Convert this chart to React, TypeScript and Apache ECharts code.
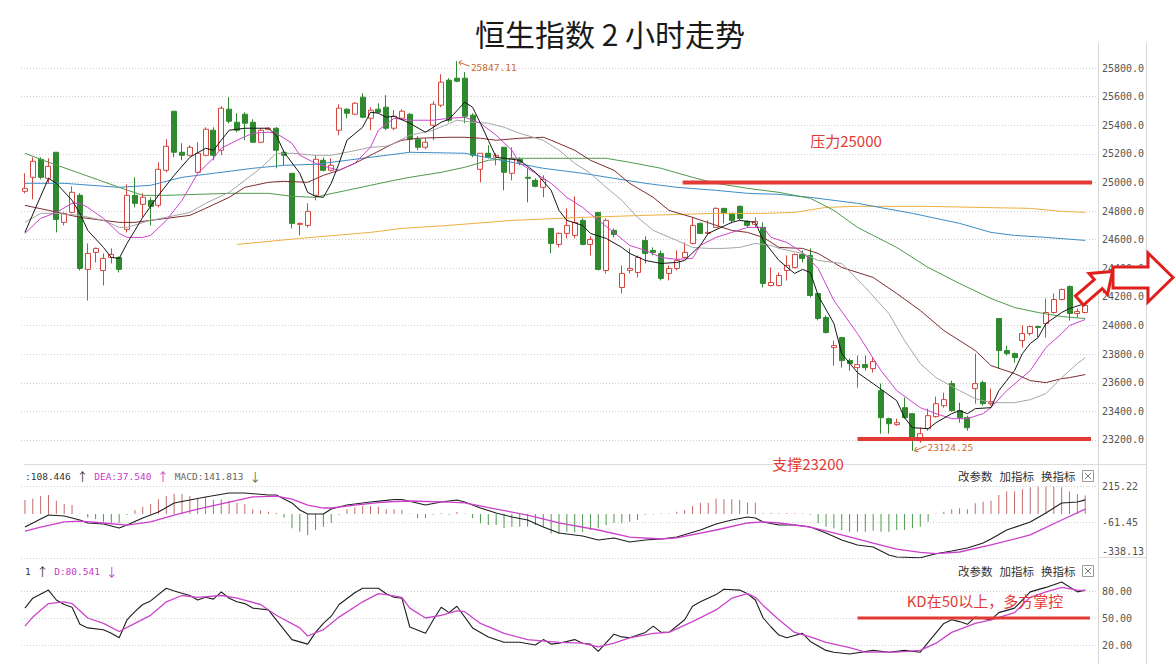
import React, { useEffect, useRef } from "react";
import * as echarts from "echarts";

const candleCount = 136;
const categories: string[] = Array.from({ length: candleCount + 1 }, (_, i) => `#${i + 1}`);

// [open, close, low, high]
const ohlc: number[][] = [
  [24938, 24959, 24924, 25064], [25036, 25148, 24882, 25176], [25162, 25036, 25022, 25176], [25029, 25113, 24994, 25169],
  [25211, 24742, 24651, 25211], [24721, 24784, 24700, 24791], [24791, 24931, 24784, 24973], [24910, 24399, 24385, 24924],
  [24392, 24504, 24175, 24574], [24511, 24539, 24441, 24545], [24385, 24469, 24280, 24504], [24476, 24497, 24434, 24539],
  [24476, 24392, 24371, 24483], [24672, 24910, 24651, 24987], [24910, 24854, 24826, 25036], [24847, 24896, 24756, 24924],
  [24875, 24833, 24700, 24896], [24840, 25092, 24826, 25141], [25085, 25253, 25071, 25302], [25498, 25211, 25176, 25498],
  [25211, 25190, 25155, 25274], [25190, 25246, 25183, 25260], [25071, 25204, 25064, 25281], [25190, 25372, 25183, 25386],
  [25365, 25190, 25155, 25386], [25225, 25519, 25190, 25533], [25512, 25428, 25414, 25596], [25421, 25365, 25351, 25484],
  [25477, 25414, 25295, 25491], [25421, 25281, 25281, 25442], [25281, 25365, 25274, 25379], [25372, 25379, 25365, 25386],
  [25379, 25225, 25099, 25386], [25211, 25190, 25120, 25225], [25064, 24714, 24679, 25064], [24707, 24714, 24630, 24721],
  [24700, 24798, 24686, 24854], [24910, 25162, 24875, 25190], [25155, 25085, 25078, 25176], [25085, 25120, 25078, 25169],
  [25365, 25519, 25330, 25547], [25512, 25484, 25449, 25519], [25477, 25554, 25470, 25561], [25596, 25456, 25449, 25624],
  [25449, 25505, 25365, 25526], [25512, 25491, 25484, 25554], [25526, 25379, 25365, 25610], [25379, 25463, 25365, 25505],
  [25449, 25498, 25435, 25512], [25477, 25302, 25211, 25484], [25302, 25246, 25225, 25323], [25246, 25281, 25232, 25309],
  [25400, 25547, 25295, 25568], [25540, 25701, 25526, 25757], [25715, 25435, 25421, 25729], [25729, 25708, 25701, 25847.11],
  [25729, 25463, 25414, 25771], [25470, 25190, 25176, 25484], [25092, 25204, 25001, 25204], [25204, 25176, 25169, 25260],
  [25176, 25190, 25120, 25204], [25246, 25071, 24945, 25246], [25064, 25169, 25015, 25246], [25162, 25141, 25120, 25176],
  [25036, 25029, 24861, 25099], [25015, 24973, 24966, 25029], [24966, 25022, 24896, 25050], [24679, 24574, 24504, 24679],
  [24567, 24644, 24546, 24651], [24644, 24700, 24609, 24819], [24630, 24721, 24609, 24903], [24735, 24567, 24560, 24749],
  [24567, 24602, 24490, 24623], [24791, 24392, 24385, 24791], [24385, 24735, 24364, 24749], [24665, 24637, 24616, 24679],
  [24266, 24364, 24224, 24420], [24385, 24399, 24364, 24539], [24371, 24476, 24336, 24490], [24595, 24504, 24434, 24623],
  [24525, 24511, 24490, 24546], [24504, 24329, 24315, 24525], [24364, 24399, 24315, 24420], [24399, 24455, 24385, 24525],
  [24476, 24511, 24469, 24581], [24574, 24700, 24567, 24756], [24714, 24644, 24644, 24721], [24644, 24651, 24637, 24735],
  [24686, 24819, 24686, 24826], [24819, 24784, 24714, 24819], [24784, 24735, 24714, 24784], [24833, 24749, 24735, 24840],
  [24728, 24700, 24686, 24735], [24707, 24728, 24686, 24756], [24686, 24294, 24266, 24721], [24280, 24301, 24273, 24406],
  [24280, 24350, 24273, 24371], [24385, 24420, 24315, 24490], [24406, 24497, 24399, 24504], [24497, 24469, 24441, 24525],
  [24490, 24210, 24196, 24539], [24224, 24049, 24035, 24224], [24056, 23951, 23944, 24070], [23846, 23860, 23720, 23895],
  [23916, 23755, 23706, 23916], [23755, 23734, 23685, 23769], [23706, 23727, 23566, 23790], [23727, 23706, 23685, 23790],
  [23699, 23748, 23671, 23776], [23545, 23356, 23244, 23594], [23349, 23314, 23244, 23356], [23307, 23321, 23300, 23349],
  [23426, 23356, 23349, 23496], [23384, 23209, 23124.25, 23384], [23195, 23244, 23181, 23286], [23279, 23370, 23265, 23419],
  [23363, 23454, 23356, 23503], [23440, 23482, 23426, 23531], [23594, 23405, 23398, 23615], [23405, 23356, 23321, 23461],
  [23356, 23286, 23265, 23370], [23559, 23594, 23454, 23804], [23601, 23454, 23440, 23615], [23454, 23468, 23440, 23559],
  [24049, 23825, 23699, 24049], [23825, 23804, 23790, 23860], [23804, 23776, 23741, 23811], [23895, 23944, 23846, 24000],
  [23944, 23993, 23930, 24000], [23993, 23986, 23916, 24000], [24014, 24091, 23916, 24189], [24091, 24182, 24084, 24224],
  [24182, 24252, 24175, 24259], [24273, 24084, 24035, 24280], [24084, 24098, 24056, 24119], [24091, 24140, 24084, 24196],
];

// moving averages: [candle index, price]
const ma5: number[][] = [
  [0, 24651], [3, 25029], [4, 24994], [6, 24875], [7, 24784], [8, 24665], [10, 24546], [11, 24476], [12, 24469], [13, 24574],
  [15, 24756], [17, 24910], [19, 25050], [21, 25176], [23, 25239], [24, 25225], [25, 25295], [26, 25365], [28, 25379], [29, 25379],
  [31, 25379], [32, 25330], [33, 25211], [35, 25064], [36, 24931], [37, 24903], [38, 24896], [39, 24994], [40, 25134], [41, 25295],
  [43, 25386], [44, 25491], [45, 25484], [46, 25456], [47, 25463], [49, 25414], [51, 25351], [53, 25421], [54, 25442], [56, 25561],
  [57, 25526], [58, 25414], [59, 25295], [60, 25176], [61, 25169], [63, 25155], [65, 25071], [67, 24945], [68, 24805], [69, 24735],
  [71, 24700], [72, 24644], [74, 24609], [76, 24546], [77, 24504], [79, 24455], [81, 24434], [83, 24441], [84, 24455], [86, 24560],
  [87, 24644], [90, 24721], [91, 24735], [93, 24721], [94, 24595], [96, 24455], [98, 24364], [99, 24392], [100, 24371], [101, 24210],
  [103, 24014], [104, 23804], [106, 23671], [108, 23594], [111, 23475], [112, 23356], [113, 23286], [115, 23279], [116, 23321],
  [118, 23384], [119, 23405], [120, 23384], [121, 23419], [123, 23426], [124, 23545], [126, 23685], [127, 23804], [128, 23874],
  [129, 23916], [130, 24014], [132, 24091], [133, 24119], [135, 24154],
];
const ma10: number[][] = [
  [0, 24644], [2, 24749], [4, 24791], [6, 24854], [7, 24854], [8, 24826], [10, 24749], [12, 24644], [13, 24616], [15, 24616],
  [16, 24630], [18, 24735], [20, 24875], [22, 25064], [24, 25169], [25, 25239], [27, 25295], [29, 25344], [31, 25351], [32, 25344],
  [34, 25274], [35, 25190], [37, 25134], [39, 25099], [40, 25085], [42, 25134], [44, 25246], [45, 25365], [47, 25449], [49, 25435],
  [52, 25435], [54, 25449], [56, 25456], [57, 25435], [58, 25414], [60, 25330], [62, 25225], [63, 25134], [65, 25064], [67, 24994],
  [69, 24896], [71, 24826], [73, 24735], [75, 24651], [77, 24560], [79, 24525], [81, 24476], [83, 24462], [85, 24469], [86, 24560],
  [88, 24616], [90, 24651], [92, 24686], [94, 24686], [95, 24616], [97, 24581], [99, 24511], [101, 24399], [103, 24175], [106, 23944],
  [109, 23685], [111, 23545], [114, 23426], [116, 23384], [118, 23349], [120, 23349], [122, 23384], [123, 23426], [125, 23545],
  [128, 23685], [130, 23846], [132, 23944], [133, 24000], [135, 24042],
];
const ma20: number[][] = [
  [0, 24721], [2, 24784], [4, 24784], [7, 24770], [10, 24735], [12, 24686], [13, 24686], [16, 24735], [18, 24756], [21, 24791],
  [23, 24854], [26, 24931], [28, 25015], [30, 25099], [32, 25204], [34, 25204], [37, 25190], [39, 25190], [41, 25211], [44, 25246],
  [46, 25253], [47, 25274], [49, 25330], [52, 25365], [55, 25435], [57, 25421], [59, 25414], [61, 25386], [63, 25344], [66, 25295],
  [68, 25225], [70, 25134], [72, 25064], [74, 24966], [76, 24875], [78, 24756], [80, 24665], [83, 24595], [85, 24546], [87, 24539],
  [89, 24539], [91, 24546], [93, 24574], [95, 24560], [96, 24539], [99, 24504], [101, 24455], [104, 24434], [107, 24266], [110, 24084],
  [112, 23895], [114, 23734], [116, 23636], [119, 23545], [121, 23489], [123, 23461], [126, 23461], [128, 23482], [130, 23524],
  [132, 23636], [134, 23734], [135, 23776],
];
const ma30: number[][] = [
  [0, 24840], [3, 24805], [7, 24756], [10, 24735], [12, 24721], [14, 24721], [16, 24735], [18, 24749], [21, 24770], [23, 24819],
  [26, 24896], [28, 24966], [31, 25001], [33, 25008], [36, 25001], [38, 25050], [40, 25085], [42, 25134], [44, 25190], [46, 25246],
  [47, 25274], [48, 25295], [50, 25309], [54, 25316], [56, 25316], [58, 25309], [60, 25295], [63, 25309], [66, 25316], [67, 25295],
  [70, 25225], [72, 25155], [75, 25085], [77, 24994], [80, 24896], [82, 24805], [85, 24756], [88, 24700], [90, 24665], [92, 24651],
  [94, 24616], [96, 24546], [99, 24539], [101, 24504], [104, 24406], [108, 24336], [111, 24224], [114, 24105], [117, 23965],
  [121, 23825], [123, 23720], [126, 23664], [128, 23615], [130, 23601], [132, 23629], [133, 23636], [135, 23657],
];
const ma60: number[][] = [
  [0, 25204], [3, 25141], [7, 25064], [12, 24966], [15, 24910], [18, 24910], [22, 24917], [26, 24924], [31, 24924], [34, 24903],
  [37, 24896], [38, 24910], [41, 24945], [44, 24980], [47, 25015], [49, 25036], [53, 25071], [56, 25106], [59, 25155], [62, 25169],
  [66, 25169], [71, 25169], [74, 25169], [77, 25141], [81, 25099], [85, 25036], [88, 24994], [92, 24959], [94, 24945], [96, 24931],
  [100, 24889], [103, 24805], [106, 24686], [111, 24546], [115, 24406], [119, 24294], [123, 24189], [126, 24126], [129, 24091],
  [132, 24063], [135, 24049],
];
const ma120: number[][] = [
  [0, 24994], [5, 24994], [12, 24966], [16, 24980], [20, 25036], [24, 25064], [29, 25099], [33, 25120], [37, 25127], [41, 25155],
  [46, 25190], [49, 25211], [56, 25204], [62, 25141], [66, 25099], [71, 25064], [75, 25029], [79, 24994], [83, 24966], [88, 24945],
  [92, 24924], [96, 24917], [100, 24896], [106, 24854], [113, 24784], [119, 24714], [123, 24651], [126, 24630], [130, 24616],
  [135, 24595],
];
const ma250: number[][] = [
  [27, 24567], [35, 24609], [44, 24651], [48, 24679], [54, 24700], [62, 24735], [71, 24756], [79, 24770], [88, 24784], [94, 24784],
  [98, 24791], [102, 24826], [106, 24833], [115, 24833], [121, 24826], [128, 24819], [132, 24798], [135, 24791],
];

const macdHist: number[] = [
  108, 120, 138, 146, 102, 77, 69, 2, -26, -41, -59, -67, -67, -8, 31, 56, 77, 113, 138, 154, 154, 138, 120, 128, 108, 113, 102, 87,
  77, 36, 26, 18, 10, -26, -110, -136, -161, -123, -97, -67, -5, 36, 51, 61, 61, 56, 36, 36,
  31, 3, -33, -33, -5, 5, -5, 15, 3, -33, -72, -85, -85, -110, -97, -97, -97, -85, -97, -149, -154, -136, -143, -136, -123, -110,
  -85, -67, -72, -59, -46, -5, -3, 3, 3, 18, 31, 61, 87, 87, 120, 113, 113, 108, 87, 87,
  5, 8, 5, 8, 5, 3, -5, -72, -97, -110, -123, -136, -136, -136, -128, -136, -136, -123, -123, -110, -97, -59, 3, 18, 36, 44, 36,
  82, 95, 102, 146, 172, 172, 190, 205, 210, 210, 210, 205, 172, 154, 141.813,
];
const dif: number[][] = [
  [0, -100], [1, -69], [3, -8], [5, -15], [7, -46], [8, -69], [10, -77], [12, -108], [13, -85], [15, -31], [17, 15], [19, 85],
  [21, 108], [23, 131], [26, 161], [28, 161], [31, 146], [32, 146], [34, 85], [35, 31], [36, 0], [38, 0], [39, 38], [41, 69],
  [44, 92], [46, 105], [47, 112], [48, 112], [51, 69], [53, 92], [55, 108], [56, 92], [58, 46], [60, 8], [62, -23], [64, -46],
  [66, -100], [68, -146], [71, -169], [73, -200], [75, -184], [77, -215], [79, -200], [81, -192], [83, -177], [86, -123], [88, -77],
  [90, -46], [92, -23], [93, -31], [94, -61], [96, -85], [98, -85], [100, -100], [102, -146], [104, -200], [106, -238], [108, -254],
  [110, -315], [111, -330], [114, -336], [116, -305], [118, -284], [120, -261], [122, -223], [123, -192], [125, -123], [128, -61],
  [130, 8], [132, 85], [134, 92], [135, 108.446],
];
const dea: number[][] = [
  [0, -131], [2, -100], [5, -61], [7, -54], [10, -69], [13, -85], [16, -61], [19, -8], [22, 38], [26, 92], [29, 131], [32, 138],
  [34, 115], [36, 69], [38, 46], [39, 46], [42, 69], [45, 88], [47, 96], [49, 100], [54, 92], [56, 85], [60, 38], [64, -8],
  [68, -69], [73, -123], [77, -177], [81, -192], [83, -184], [88, -123], [92, -69], [94, -61], [96, -69], [100, -100], [104, -161],
  [108, -223], [111, -270], [114, -295], [116, -305], [119, -292], [123, -238], [128, -161], [132, -46], [135, 37.54],
];
const kLine: number[][] = [
  [0, 61], [1, 72], [3, 81], [4, 70], [5, 65], [6, 62], [7, 43], [8, 39], [10, 37], [11, 33], [12, 28], [13, 48], [14, 57], [15, 65],
  [16, 69], [18, 83], [19, 80], [21, 75], [22, 70], [23, 73], [24, 71], [25, 79], [26, 72], [27, 68], [28, 66], [29, 61], [31, 59],
  [32, 48], [34, 26], [36, 21], [37, 34], [38, 44], [39, 52], [40, 65], [42, 78], [43, 83], [45, 83], [46, 77], [47, 73], [48, 72],
  [49, 40], [51, 33], [52, 48], [53, 62], [54, 56], [55, 63], [57, 39], [59, 29], [61, 23], [63, 23], [65, 20], [66, 26], [67, 21],
  [68, 22], [70, 26], [71, 22], [72, 21], [73, 13], [75, 32], [76, 29], [77, 28], [79, 34], [80, 41], [81, 34], [82, 34], [84, 48],
  [85, 63], [86, 68], [88, 76], [89, 82], [91, 81], [92, 77], [93, 70], [94, 50], [95, 40], [96, 31], [97, 28], [99, 33], [100, 24],
  [102, 14], [103, 12], [105, 10], [108, 14], [110, 12], [112, 14], [114, 12], [115, 23], [117, 44], [118, 48], [119, 46], [120, 43],
  [121, 51], [123, 48], [124, 56], [126, 61], [128, 79], [130, 84], [132, 90], [134, 79], [135, 81],
];
const dLine: number[][] = [
  [0, 41], [1, 51], [3, 66], [5, 68], [6, 66], [8, 50], [10, 44], [12, 35], [14, 44], [16, 53], [18, 68], [20, 75], [22, 73],
  [25, 75], [27, 72], [30, 65], [32, 53], [35, 39], [36, 30], [38, 37], [40, 51], [43, 68], [45, 77], [46, 76], [48, 73], [49, 61],
  [51, 50], [53, 53], [55, 58], [56, 57], [58, 44], [61, 33], [64, 26], [68, 23], [71, 22], [72, 20], [73, 18], [75, 22], [77, 28],
  [80, 33], [82, 34], [85, 46], [88, 59], [90, 72], [92, 77], [93, 73], [94, 64], [96, 48], [98, 34], [100, 29], [102, 23], [105, 17],
  [107, 12], [111, 12], [114, 14], [116, 22], [118, 34], [121, 44], [123, 48], [126, 56], [128, 73], [130, 79], [132, 84], [134, 81],
  [135, 80.541],
];

const mainAxis = { min: 23000, max: 26000, step: 200 };
const macdTickLabels = ["-338.13", "-61.45", "215.22"];
const macdAxis = { min: -338.13, max: 215.22 };
const kdTickValues = [20, 50, 80];

const highPoint = { index: 55, value: 25847.11, label: "25847.11" };
const lowPoint = { index: 113, value: 23124.25, label: "23124.25" };
const resistance = { value: 25000, fromIndex: 84, label: "压力25000" };
const support = { value: 23200, fromIndex: 106, label: "支撑23200" };
const kdLevel = { value: 50, fromIndex: 106, label: "KD在50以上，多方掌控" };
const macdHeader = { dif: "108.446", dea: "37.540", macd: "141.813" };
const kdHeader = { k: "1", d: "80.541" };
const toolLabels = ["改参数", "加指标", "换指标"];
const titleText = "恒生指数 2 小时走势";

const MONO = "DejaVu Sans Mono";
const CJK = "Noto Sans CJK SC";
const RED = "#e23b36";
const UP = "#d4473f";
const DOWN = "#2f8a2f";

const gridLeft = 21;
const gridRight = 79;

function lineSeries(data: number[][], color: string, axis = 0, width = 1) {
  return {
    type: "line",
    xAxisIndex: axis,
    yAxisIndex: axis,
    data,
    symbol: "none",
    showSymbol: false,
    silent: true,
    z: 3,
    lineStyle: { color, width },
  };
}

function buildOption(): any {
  const mainCount = (mainAxis.max - mainAxis.min) / mainAxis.step + 1;
  const mainSplitColors = Array.from({ length: mainCount }, (_, i) =>
    i === 0 || i === mainCount - 1 ? "rgba(0,0,0,0)" : "#cfcfcf"
  );
  const kdSplitColors = Array.from({ length: 11 }, (_, i) =>
    kdTickValues.indexOf(i * 10) >= 0 ? "#cfcfcf" : "rgba(0,0,0,0)"
  );
  const labelBase = { color: "#555", fontFamily: MONO, fontSize: 10, margin: 5 };
  return {
    animation: false,
    backgroundColor: "#fff",
    title: {
      text: titleText,
      left: 470,
      top: 13,
      textStyle: { fontSize: 30, fontWeight: "normal", fontFamily: CJK, color: "#1a1a1a" },
    },
    grid: [
      { left: gridLeft, right: gridRight, top: 39.4, height: 429.2 },
      { left: gridLeft, right: gridRight, top: 486, height: 72 },
      { left: gridLeft, right: gridRight, top: 573, height: 90 },
    ],
    xAxis: [0, 1, 2].map((g) => ({
      type: "category",
      gridIndex: g,
      data: categories,
      boundaryGap: true,
      show: false,
    })),
    yAxis: [
      {
        type: "value",
        gridIndex: 0,
        position: "right",
        min: mainAxis.min,
        max: mainAxis.max,
        interval: mainAxis.step,
        axisLine: { show: false },
        axisTick: { show: false },
        axisLabel: { ...labelBase, showMinLabel: false, showMaxLabel: false, formatter: (v: number) => v.toFixed(1) },
        splitLine: { show: true, lineStyle: { color: mainSplitColors, type: [1, 2], width: 1 } },
      },
      {
        type: "value",
        gridIndex: 1,
        position: "right",
        min: macdAxis.min,
        max: macdAxis.max,
        interval: (macdAxis.max - macdAxis.min) / 2,
        axisLine: { show: false },
        axisTick: { show: false },
        axisLabel: {
          ...labelBase,
          formatter: (v: number) => {
            const vals = macdTickLabels.map(Number);
            let best = 0;
            vals.forEach((t, i) => {
              if (Math.abs(t - v) < Math.abs(vals[best] - v)) best = i;
            });
            return best === 0 ? `{lo|${macdTickLabels[0]}}` : macdTickLabels[best];
          },
          rich: { lo: { color: "#555", fontFamily: MONO, fontSize: 10, padding: [0, 0, 14, 0] } },
        },
        splitLine: { show: true, lineStyle: { color: "#cfcfcf", type: [1, 2], width: 1 } },
      },
      {
        type: "value",
        gridIndex: 2,
        position: "right",
        min: 0,
        max: 100,
        interval: 10,
        axisLine: { show: false },
        axisTick: { show: false },
        axisLabel: {
          ...labelBase,
          formatter: (v: number) => (kdTickValues.indexOf(v) >= 0 ? v.toFixed(2) : ""),
        },
        splitLine: { show: true, lineStyle: { color: kdSplitColors, type: [1, 2], width: 1 } },
      },
    ],
    series: [
      {
        type: "candlestick",
        xAxisIndex: 0,
        yAxisIndex: 0,
        data: ohlc,
        barWidth: 5.5,
        silent: true,
        z: 2,
        itemStyle: { color: "#ffffff", color0: DOWN, borderColor: UP, borderColor0: DOWN, borderWidth: 1 },
      },
      lineSeries(ma250, "#eeb042"),
      lineSeries(ma120, "#3d8ec7"),
      lineSeries(ma60, "#4e9a4e"),
      lineSeries(ma30, "#7d2e2e"),
      lineSeries(ma20, "#a6a6a6"),
      lineSeries(ma10, "#cc44cc"),
      lineSeries(ma5, "#161616"),
      {
        type: "bar",
        xAxisIndex: 1,
        yAxisIndex: 1,
        data: macdHist,
        barWidth: 1,
        silent: true,
        itemStyle: { color: (p: any) => (p.value >= 0 ? "#c46a6a" : "#4f9a4f") },
      },
      lineSeries(dif, "#1e1e1e", 1, 1.1),
      lineSeries(dea, "#cc3fcc", 1, 1.3),
      lineSeries(kLine, "#1e1e1e", 2, 1.1),
      lineSeries(dLine, "#cc44cc", 2, 1.3),
    ],
  };
}

function buildGraphic(chart: any): any[] {
  const P = (g: number, i: number, v: number): number[] => chart.convertToPixel({ gridIndex: g }, [i, v]);
  const els: any[] = [];
  const gray = "#d6d6d6";
  els.push({ type: "line", silent: true, shape: { x1: 1098.5, y1: 43, x2: 1098.5, y2: 664 }, style: { stroke: gray, lineWidth: 1 } });
  els.push({ type: "line", silent: true, shape: { x1: 1146.5, y1: 43, x2: 1146.5, y2: 664 }, style: { stroke: gray, lineWidth: 1 } });
  els.push({ type: "line", silent: true, shape: { x1: 24, y1: 464.5, x2: 1146, y2: 464.5 }, style: { stroke: "#dcdcdc", lineWidth: 1 } });
  els.push({ type: "line", silent: true, shape: { x1: 1098, y1: 557.5, x2: 1146, y2: 557.5 }, style: { stroke: "#dcdcdc", lineWidth: 1 } });

  // resistance / support / KD level
  const r = P(0, resistance.fromIndex, resistance.value);
  els.push({ type: "line", z: 50, shape: { x1: r[0] - 2, y1: r[1], x2: 1092, y2: r[1] }, style: { stroke: RED, lineWidth: 4 } });
  els.push({
    type: "text", z: 50, x: 846, y: r[1] - 42,
    style: { text: resistance.label, fill: RED, fontSize: 15, fontFamily: CJK, align: "center", verticalAlign: "middle" },
  });
  const s = P(0, support.fromIndex, support.value);
  els.push({ type: "line", z: 50, shape: { x1: s[0], y1: s[1] - 1, x2: 1091, y2: s[1] - 1 }, style: { stroke: RED, lineWidth: 4 } });
  els.push({
    type: "text", z: 50, x: 808, y: s[1] + 24,
    style: { text: support.label, fill: RED, fontSize: 15, fontFamily: CJK, align: "center", verticalAlign: "middle" },
  });
  const k = P(2, kdLevel.fromIndex, kdLevel.value);
  els.push({ type: "line", z: 50, shape: { x1: k[0], y1: k[1], x2: 1090, y2: k[1] }, style: { stroke: RED, lineWidth: 3 } });
  els.push({
    type: "text", z: 50, x: 985, y: k[1] - 18,
    style: { text: kdLevel.label, fill: RED, fontSize: 15, fontFamily: CJK, align: "center", verticalAlign: "middle" },
  });

  // high / low markers
  const orange = "#cc6a28";
  const h = P(0, highPoint.index, highPoint.value);
  els.push({ type: "line", z: 40, shape: { x1: h[0] + 13, y1: h[1] + 5, x2: h[0] + 2, y2: h[1] + 1 }, style: { stroke: orange, lineWidth: 1 } });
  els.push({
    type: "polyline", z: 40,
    shape: { points: [[h[0] + 5, h[1] - 1], [h[0] + 2, h[1] + 1], [h[0] + 4, h[1] + 4]] },
    style: { stroke: orange, lineWidth: 1, fill: "none" },
  });
  els.push({
    type: "text", z: 40, x: h[0] + 14, y: h[1] + 6,
    style: { text: highPoint.label, fill: orange, fontSize: 9.5, fontFamily: MONO, align: "left", verticalAlign: "middle" },
  });
  const l = P(0, lowPoint.index, lowPoint.value);
  els.push({ type: "line", z: 40, shape: { x1: l[0] + 14, y1: l[1] - 5, x2: l[0] + 2, y2: l[1] }, style: { stroke: orange, lineWidth: 1 } });
  els.push({
    type: "polyline", z: 40,
    shape: { points: [[l[0] + 4, l[1] - 4], [l[0] + 2, l[1]], [l[0] + 6, l[1] + 1]] },
    style: { stroke: orange, lineWidth: 1, fill: "none" },
  });
  els.push({
    type: "text", z: 40, x: l[0] + 15, y: l[1] - 3,
    style: { text: lowPoint.label, fill: orange, fontSize: 9.5, fontFamily: MONO, align: "left", verticalAlign: "middle" },
  });

  // panel headers
  const hdrY = [476, 571];
  const t = (fill: string) => ({ fill, fontSize: 9.5, fontFamily: MONO });
  const ar = (fill: string) => ({ fill, fontSize: 12, fontFamily: CJK });
  els.push({
    type: "text", z: 40, x: 25, y: hdrY[0],
    style: {
      text: `{a|:${macdHeader.dif} }{aa|↑}{b| DEA:${macdHeader.dea} }{bb|↑}{c| MACD:${macdHeader.macd} }{cc|↓}`,
      verticalAlign: "middle", align: "left",
      rich: { a: t("#333"), aa: ar("#333"), b: t("#c63ac6"), bb: ar("#c63ac6"), c: t("#666"), cc: ar("#666") },
    },
  });
  els.push({
    type: "text", z: 40, x: 25, y: hdrY[1],
    style: {
      text: `{a|${kdHeader.k} }{aa|↑}{b| D:${kdHeader.d} }{bb|↓}`,
      verticalAlign: "middle", align: "left",
      rich: { a: t("#333"), aa: ar("#333"), b: t("#c63ac6"), bb: ar("#c63ac6") },
    },
  });
  const toolX = [958, 999.5, 1041];
  hdrY.forEach((y) => {
    toolLabels.forEach((txt, i) => {
      els.push({
        type: "text", z: 40, x: toolX[i], y,
        style: { text: txt, fill: "#333", fontSize: 11.5, fontFamily: CJK, align: "left", verticalAlign: "middle" },
      });
    });
    els.push({ type: "rect", z: 40, shape: { x: 1082.5, y: y - 5.5, width: 11, height: 11 }, style: { stroke: "#9a9a9a", fill: "#fff", lineWidth: 1 } });
    els.push({ type: "line", z: 41, shape: { x1: 1085, y1: y - 3, x2: 1091, y2: y + 3 }, style: { stroke: "#777", lineWidth: 1 } });
    els.push({ type: "line", z: 41, shape: { x1: 1091, y1: y - 3, x2: 1085, y2: y + 3 }, style: { stroke: "#777", lineWidth: 1 } });
  });

  // outlined arrows
  els.push({
    type: "polygon", z: 60, x: 1096, y: 286, rotation: 0.72,
    shape: { points: [[-22, -6], [3, -6], [3, -14], [22, 0], [3, 14], [3, 6], [-22, 6]] },
    style: { fill: "#fff", stroke: "#e0201c", lineWidth: 3, lineJoin: "miter" },
  });
  els.push({
    type: "polygon", z: 61,
    shape: { points: [[1113, 267], [1148, 267], [1148, 253], [1173, 277.5], [1148, 302], [1148, 288], [1113, 288]] },
    style: { fill: "#fff", stroke: "#e0201c", lineWidth: 3, lineJoin: "miter" },
  });
  return els;
}

export default function App() {
  const ref = useRef<HTMLDivElement>(null);
  useEffect(() => {
    if (!ref.current) return;
    const chart = echarts.init(ref.current, null, { renderer: "svg" });
    chart.setOption(buildOption());
    chart.setOption({ graphic: buildGraphic(chart) });
    return () => chart.dispose();
  }, []);
  return (
    <div
      ref={ref}
      style={{ position: "absolute", left: 0, top: 0, width: 1176, height: 664, background: "#fff" }}
    />
  );
}
